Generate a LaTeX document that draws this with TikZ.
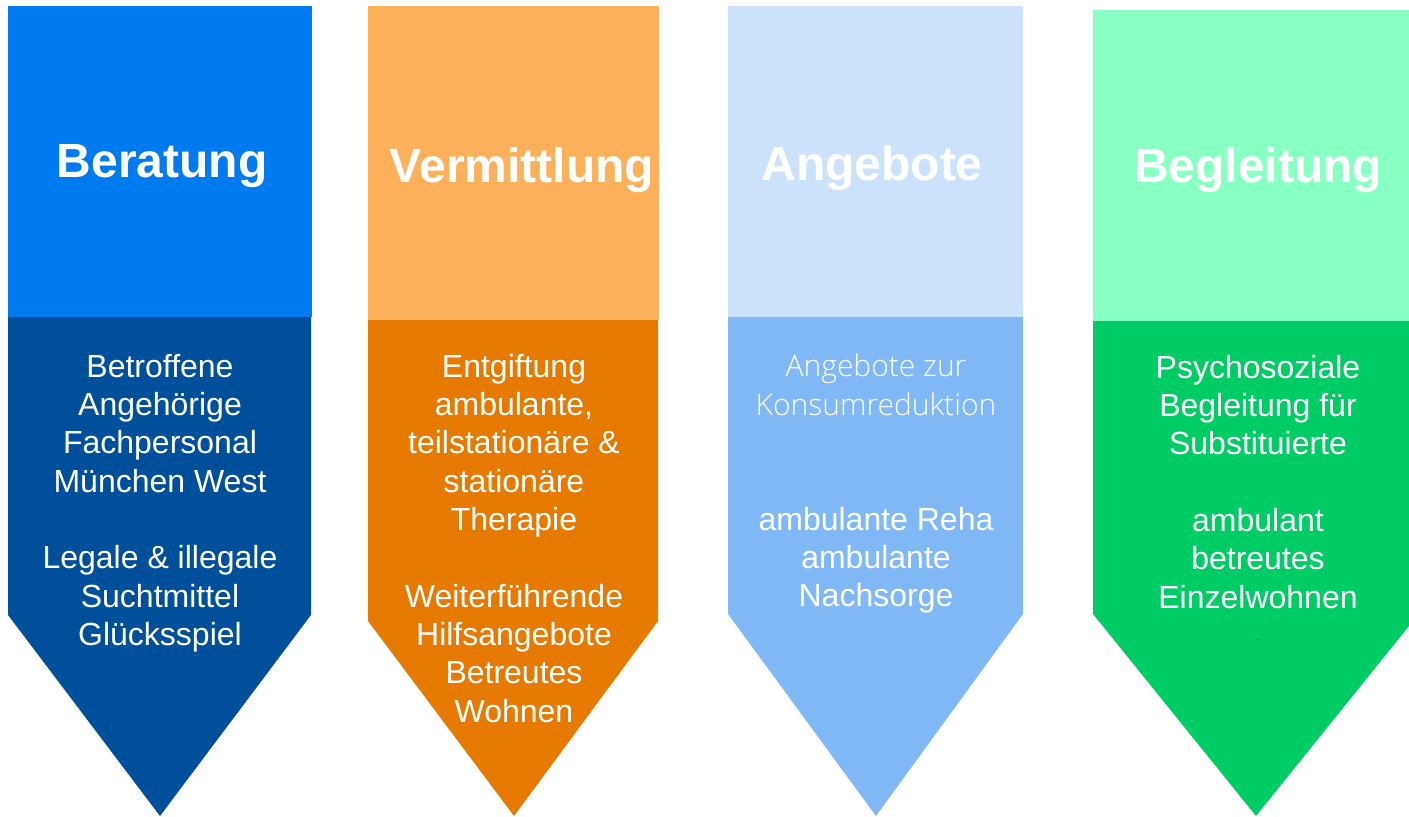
\documentclass[tikz,border=0pt]{standalone}
\usepackage{fontspec}
\setmainfont{Liberation Sans}
\newfontfamily\lightfont{Open Sans Light}

\definecolor{berHead}{HTML}{007BEF}
\definecolor{berBody}{HTML}{004F9A}
\definecolor{verHead}{HTML}{FDB05A}
\definecolor{verBody}{HTML}{E67A00}
\definecolor{angHead}{HTML}{CCE1FA}
\definecolor{angBody}{HTML}{80B7F5}
\definecolor{begHead}{HTML}{88FFC3}
\definecolor{begBody}{HTML}{00CC66}
\definecolor{dotBlue}{HTML}{2A3C8C}

\begin{document}
\begin{tikzpicture}[x=1pt,y=-1pt]

      \tikzset{title/.style={inner sep=0pt, anchor=base, text=white, font=\fontsize{48}{56}\selectfont\bfseries},
               body/.style={inner sep=0pt, anchor=north, align=center, text=white, font=\fontsize{32}{38.3}\selectfont},
               thin/.style={body, font=\fontsize{30}{38.3}\selectfont\lightfont}}
      \useasboundingbox (0,0) rectangle (1409,817);
%% Headers
      	\fill[berHead] (8,6) rectangle (312,317);
      	\fill[verHead] (368,6) rectangle (659,320);
      	\fill[angHead] (728,6) rectangle (1023,317);
      	\fill[begHead] (1093,10) rectangle (1409,321);
%% Arrows
      	\fill[berBody] (8,317) -- (311,317) -- (311,615) -- (160,816) -- (8,615) -- cycle;
      	\fill[verBody] (368,320) -- (658,320) -- (658,621) -- (514,816) -- (368,621) -- cycle;
      	\fill[angBody] (728,317) -- (1023,317) -- (1023,614) -- (876,816) -- (728,614) -- cycle;
      	\fill[begBody] (1093,321) -- (1409,321) -- (1409,626) -- (1256,816) -- (1093,614) -- cycle;
%% Titles
      	\node[title] (tBer) at (162,177) {Beratung};
      	\node[title] (tVer) at (522,182) {Vermittlung};
      	\node[title] (tAng) at (872,180) {Angebote};
      	\node[title] (tBeg) at (1258,182) {Begleitung};
%Texts
      	\node[body] (xBer) at (160,354) {Betroffene\\Angehörige\\Fachpersonal\\München West\\[38.3pt]Legale \& illegale\\Suchtmittel\\Glücksspiel};
      	\node[body] (xVer) at (514,354) {Entgiftung\\ambulante,\\teilstationäre \&\\stationäre\\Therapie\\[38.3pt]Weiterführende\\Hilfsangebote\\Betreutes\\Wohnen};
      	\node[thin] (xAngA) at (876,354) {Angebote zur\\Konsumreduktion};
      	\node[body] (xAngB) at (876,507) {ambulante Reha\\ambulante\\Nachsorge};
      	\node[body] (xBeg) at (1258,355) {Psychosoziale\\Begleitung für\\Substituierte\\[38.3pt]ambulant\\betreutes\\Einzelwohnen};
      	\node[inner sep=0pt, text=dotBlue, font=\fontsize{12}{12}\selectfont] (xDot) at (1257,640) {.};

	\end{tikzpicture}
\end{document}
